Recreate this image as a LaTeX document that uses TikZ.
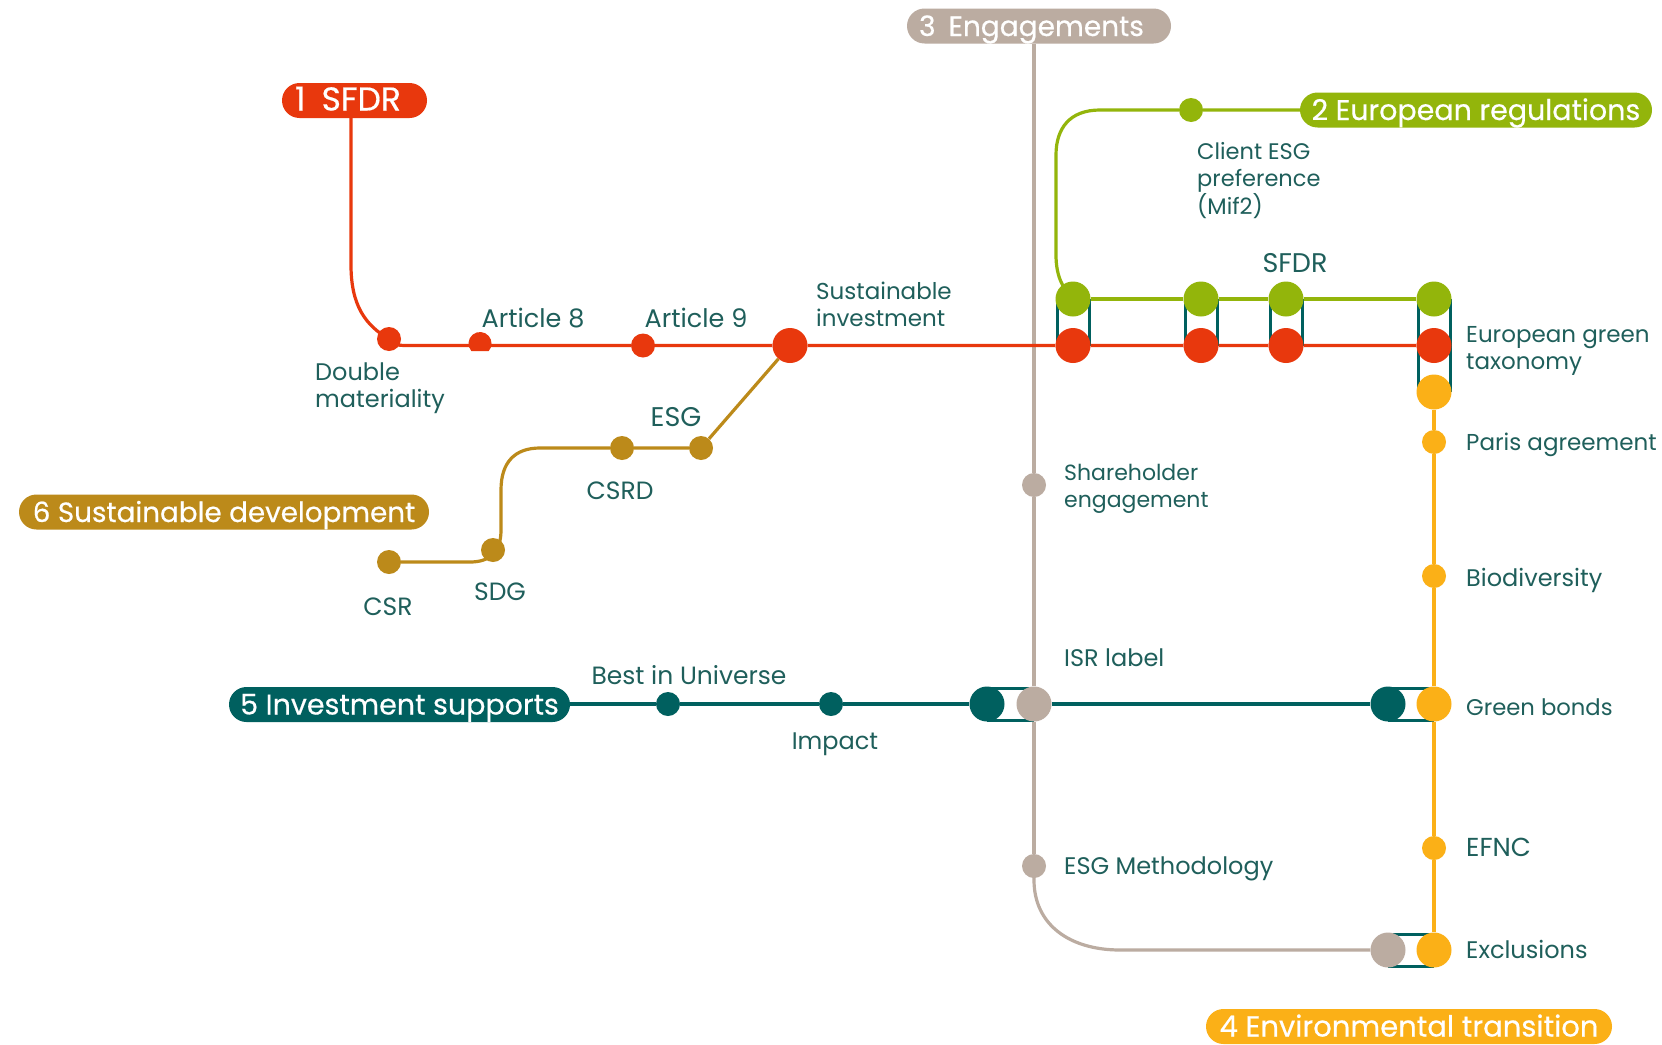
\documentclass[tikz,border=0pt]{standalone}
\usepackage{fontspec}
\setmainfont{Poppins}
\newfontfamily\pillfont[FakeBold=0.5]{Poppins}
\usetikzlibrary{backgrounds,calc}
\definecolor{cred}{HTML}{E8380D}
\definecolor{cgreen}{HTML}{93B50B}
\definecolor{cyellow}{HTML}{FBB017}
\definecolor{cgrey}{HTML}{BBACA1}
\definecolor{cteal}{HTML}{00605F}
\definecolor{cbrown}{HTML}{BC8A1A}
\definecolor{ctext}{HTML}{1F5F5B}
\tikzset{
  x=1pt,y=-1pt,
  pill/.style={fill=#1,rounded corners=17.5pt,text=white,font=\pillfont\fontsize{28.5}{28.5}\selectfont,inner sep=0pt,minimum height=35pt,anchor=center,text height=20pt,text depth=0pt},
  small/.style={circle,fill=#1,inner sep=0pt,minimum size=24pt},
  big/.style={circle,fill=#1,inner sep=0pt,minimum size=35pt},
  lab/.style={text=ctext,font=\fontsize{24}{26.5}\selectfont,inner sep=0pt,align=left},
  slab/.style={lab,text height=17pt,text depth=0pt},
  fs/.style={font=\fontsize{#1}{26.5}\selectfont},
  pfs/.style={font=\pillfont\fontsize{#1}{#1}\selectfont},
  linkline/.style={draw=#1,line width=3.2pt},
  rail/.style={draw=cteal,line width=3pt},
}
\begin{document}
\begin{tikzpicture}
\useasboundingbox (0,0) rectangle (1662,1044);
\begin{scope}[on background layer]
\fill[white] (0,0) rectangle (1662,1044);
\end{scope}
% pills
\node[pill=cred,pfs=33,minimum width=145pt] (p1) at (354.5,100.5) {1\kern16pt SFDR\kern13pt};
\node[pill=cgreen,minimum width=352pt] (p2) at (1476,110) {2 European regulations};
\node[pill=cgrey,pfs=28,minimum width=264pt] (p3) at (1039,26) {3\kern13pt Engagements\kern15pt};
\node[pill=cyellow,pfs=29,minimum width=406pt] (p4) at (1409,1026.5) {4 Environmental transition};
\node[pill=cteal,minimum width=341pt] (p5) at (399.5,704.5) {5 Investment supports};
\node[pill=cbrown,pfs=27.8,minimum width=410pt] (p6) at (224,512) {6 Sustainable development};
% red stations
\node[small=cred] (dmat) at (389,339) {};
\coordinate (art8) at (480,345.5);
\fill[cred] ($(art8)+(-8.7,5.5)$) arc[start angle=220.7,end angle=-40.7,radius=11.5pt] -- cycle;
\node[small=cred] (art9) at (643,345.5) {};
\node[big=cred] (sinv) at (790,345.5) {};
\foreach \n/\x in {a/1073,b/1201,c/1286,d/1434}{
  \node[big=cgreen] (g\n) at (\x,299) {};
  \node[big=cred] (r\n) at (\x,345.5) {};
}
\node[big=cyellow] (ytop) at (1434,392) {};
% green
\node[small=cgreen] (cesg) at (1191,110) {};
% grey
\node[small=cgrey] (she) at (1034,485) {};
\node[big=cgrey] (isr) at (1034,704) {};
\node[small=cgrey] (esgm) at (1034,866) {};
\node[big=cgrey] (gex) at (1388,950) {};
% teal
\node[small=cteal] (biu) at (668,704) {};
\node[small=cteal] (imp) at (831,704) {};
\node[big=cteal] (t1) at (987,704) {};
\node[big=cteal] (t2) at (1388,704) {};
% yellow
\node[small=cyellow] (par) at (1434,442) {};
\node[small=cyellow] (bio) at (1434,576) {};
\node[big=cyellow] (gby) at (1434,704) {};
\node[small=cyellow] (efnc) at (1434,848) {};
\node[big=cyellow] (exc) at (1434,950) {};
% brown
\node[small=cbrown] (csr) at (389,562) {};
\node[small=cbrown] (sdg) at (493,550) {};
\node[small=cbrown] (csrd) at (622,448) {};
\node[small=cbrown] (esg) at (701,448) {};
% labels
\node[lab,anchor=west] (l1) at (315,388) {Double\\materiality};
\node[slab,fs=25.5] (l2) at (533,319) {Article 8};
\node[slab,fs=25.5] (l3) at (696,319) {Article 9};
\node[lab,fs=23,anchor=west] (l4) at (816,304.5) {Sustainable\\investment};
\node[slab,fs=27] (l5) at (1295,264) {SFDR};
\node[lab,fs=22.5,anchor=west] (l6) at (1197,180.5) {Client ESG\\preference\\(Mif2)};
\node[lab,fs=23,anchor=west] (l7) at (1466,351) {European green\\taxonomy};
\node[slab,fs=23,anchor=west] (l8) at (1466,442) {Paris agreement};
\node[slab,anchor=west] (l9) at (1466,578) {Biodiversity};
\node[slab,fs=22.7,anchor=west] (l10) at (1466,707) {Green bonds};
\node[slab,fs=26,anchor=west] (l11) at (1466,848) {EFNC};
\node[slab,anchor=west] (l12) at (1466,950) {Exclusions};
\node[lab,fs=22,anchor=west] (l13) at (1064,489) {Shareholder\\engagement};
\node[slab,anchor=west] (l14) at (1064,658) {ISR label};
\node[slab,anchor=west] (l15) at (1064,866) {ESG Methodology};
\node[slab,fs=25] (l16) at (689,676) {Best in Universe};
\node[slab] (l17) at (835,741) {Impact};
\node[slab,fs=27] (l18) at (676,418) {ESG};
\node[slab,fs=25] (l19) at (620,491) {CSRD};
\node[slab,fs=25] (l20) at (388,607) {CSR};
\node[slab,fs=25] (l21) at (500,592) {SDG};
\begin{scope}[on background layer]
% grey (lowest)
\draw[linkline=cgrey] ([xshift=-5pt]p3.south) -- (she) -- (isr) -- (esgm);
\draw[linkline=cgrey] (esgm.center) -- (1034,880) .. controls (1034,925) and (1070,950) .. (1120,950) -- (gex);
% red
\draw[linkline=cred] ([xshift=-3.5pt]p1.south) -- (351,265) .. controls (351,305) and (365,325) .. (dmat.center);
\draw[linkline=cred] (dmat.center) .. controls (395,345.5) and (398,345.5) .. (410,345.5) -- (art8) -- (art9) -- (sinv) -- (ra) -- (rb) -- (rc) -- (rd);
% green
\draw[linkline=cgreen] (p2) -- (cesg) -- (1100,110) .. controls (1070,110) and (1056,128) .. (1056,155) -- (1056,255) .. controls (1056,275) and (1062,288) .. (ga.center);
\draw[linkline=cgreen] (ga) -- (gb) -- (gc) -- (gd);
% yellow
\draw[linkline=cyellow] (ytop) -- (par) -- (bio) -- (gby) -- (efnc) -- (exc);
% teal
\draw[linkline=cteal] (p5.east |- biu) -- (biu) -- (imp) -- (t1);
\draw[linkline=cteal] (isr) -- (t2);
% brown
\draw[linkline=cbrown] (csr) -- (470,562) .. controls (490,562) and (501,552) .. (501,530) -- (501,490) .. controls (501,462) and (515,448) .. (540,448) -- (csrd) -- (esg) -- (sinv);
% rails
\foreach \n in {a,b,c,d}{
  \draw[rail] ([xshift=-16pt]g\n.center) -- ([xshift=-16pt]r\n.center);
  \draw[rail] ([xshift=16pt]g\n.center) -- ([xshift=16pt]r\n.center);
}
\draw[rail] ([xshift=-16pt]rd.center) -- ([xshift=-16pt]ytop.center);
\draw[rail] ([xshift=16pt]rd.center) -- ([xshift=16pt]ytop.center);
\draw[rail] ([yshift=-16pt]t1.center) -- ([yshift=-16pt]isr.center);
\draw[rail] ([yshift=16pt]t1.center) -- ([yshift=16pt]isr.center);
\draw[rail] ([yshift=-16pt]t2.center) -- ([yshift=-16pt]gby.center);
\draw[rail] ([yshift=16pt]t2.center) -- ([yshift=16pt]gby.center);
\draw[rail] ([yshift=-16pt]gex.center) -- ([yshift=-16pt]exc.center);
\draw[rail] ([yshift=16pt]gex.center) -- ([yshift=16pt]exc.center);
\end{scope}
\end{tikzpicture}
\end{document}
